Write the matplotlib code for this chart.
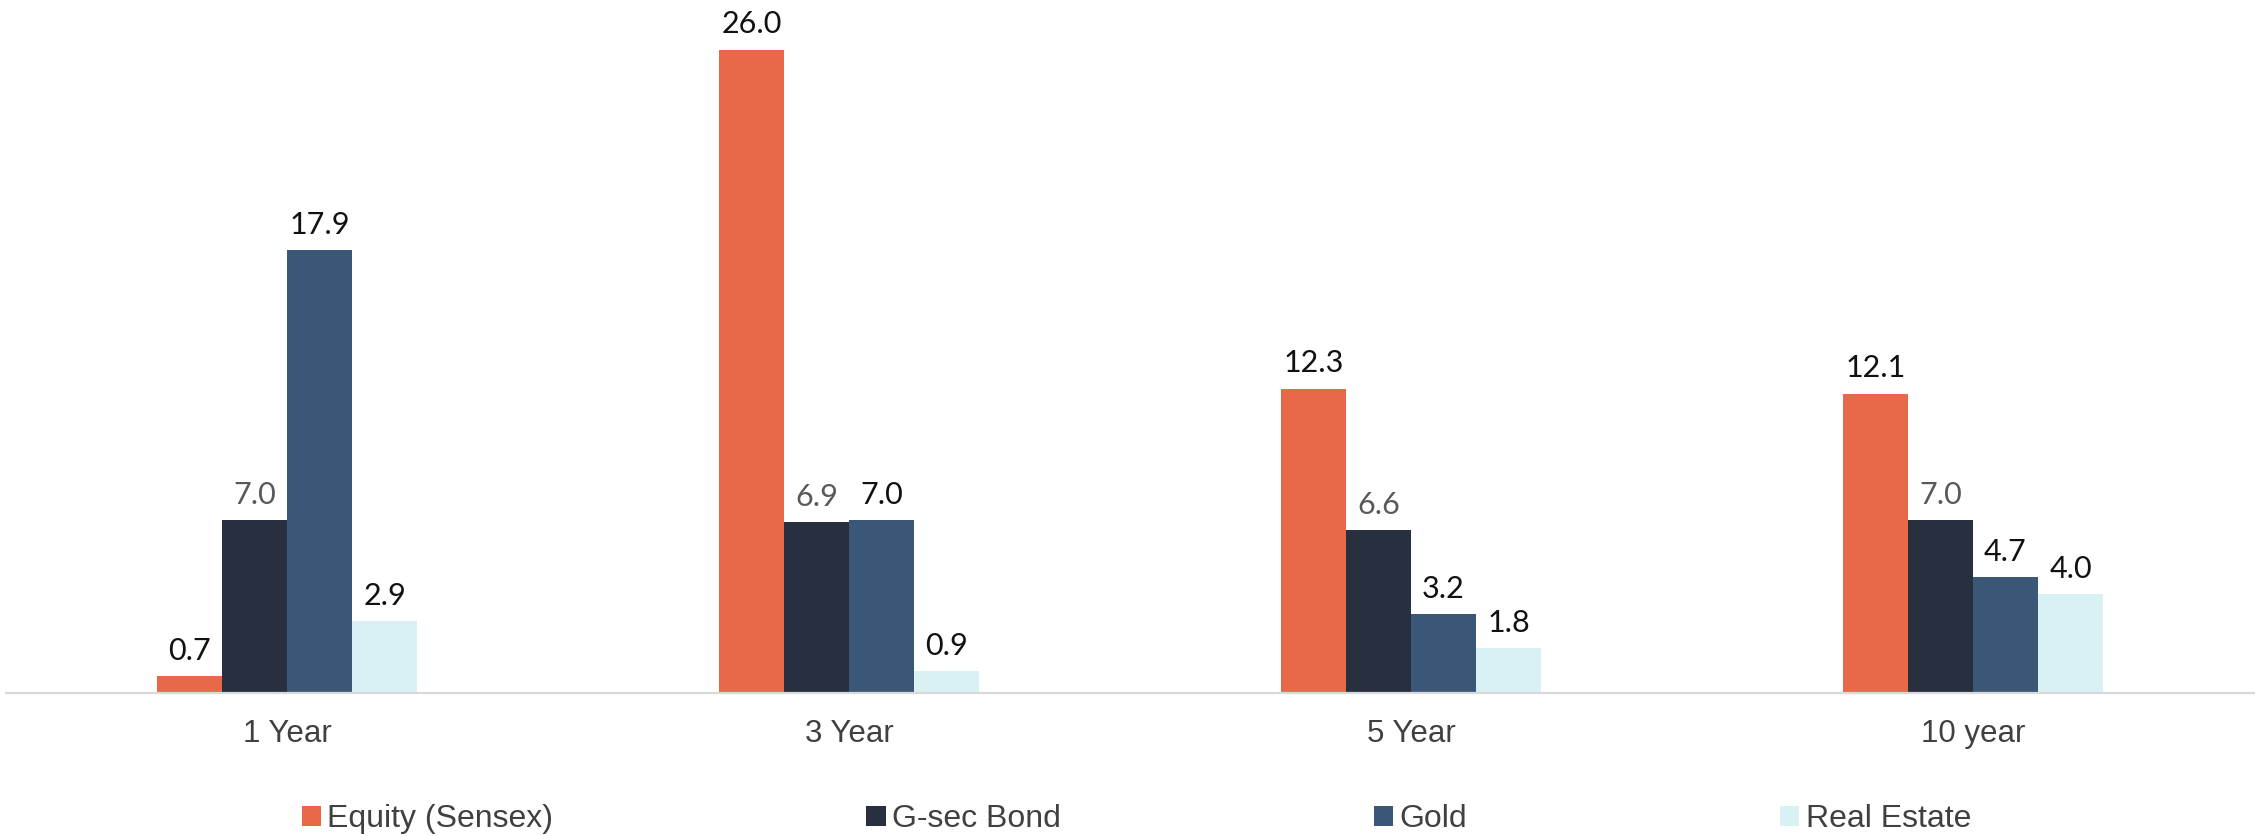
import numpy as np
import matplotlib
matplotlib.use('Agg')
import matplotlib.pyplot as plt

# returns (%) by holding period
periods = ['1 Year', '3 Year', '5 Year', '10 year']
assets = ['Equity (Sensex)', 'G-sec Bond', 'Gold', 'Real Estate']
equity = [0.7, 26.0, 12.3, 12.1]
gsec = [7.0, 6.9, 6.6, 7.0]
gold = [17.9, 7.0, 3.2, 4.7]
real_estate = [2.9, 0.9, 1.8, 4.0]

colors = ['#E8694A', '#282F3E', '#3B5778', '#D9F1F2']
label_colors = ['#111111', '#595959', '#111111', '#111111']

fig = plt.figure(figsize=(22.55, 8.36), dpi=100)
ax = fig.add_axes([6 / 2255, 143 / 836, 2248 / 2255, 1 - 143 / 836])

x = np.arange(len(periods))
w = 0.1157
series = [equity, gsec, gold, real_estate]

for i, vals in enumerate(series):
    pos = x + (i - 1.5) * w
    bars = ax.bar(pos, vals, width=w, color=colors[i], label=assets[i], zorder=2)
    for b, v in zip(bars, vals):
        ax.annotate(f'{v:.1f}', (b.get_x() + b.get_width() / 2, v),
                    xytext=(0, 8), textcoords='offset points',
                    ha='center', va='bottom', fontsize=22,
                    family='Lato', color=label_colors[i])

ax.set_xlim(-0.5, 3.5)
ax.set_ylim(0, 28)
ax.set_xticks(x)
ax.set_xticklabels(periods, fontsize=22.5, family='Liberation Sans', color='#404040')
ax.tick_params(axis='x', length=0, pad=19)
ax.set_yticks([])
for s in ['top', 'right', 'left']:
    ax.spines[s].set_visible(False)
ax.spines['bottom'].set_color('#D9D9D9')
ax.spines['bottom'].set_linewidth(1.6)

leg = fig.legend(loc='center', bbox_to_anchor=(0.504, 0.020), ncol=4,
                 frameon=False, prop={'family': 'Liberation Sans', 'size': 23},
                 handlelength=0.6, handleheight=0.55, handletextpad=0.2,
                 columnspacing=9.8, borderpad=0)
for t in leg.get_texts():
    t.set_color('#404040')

fig.savefig('out.png', dpi=100)
